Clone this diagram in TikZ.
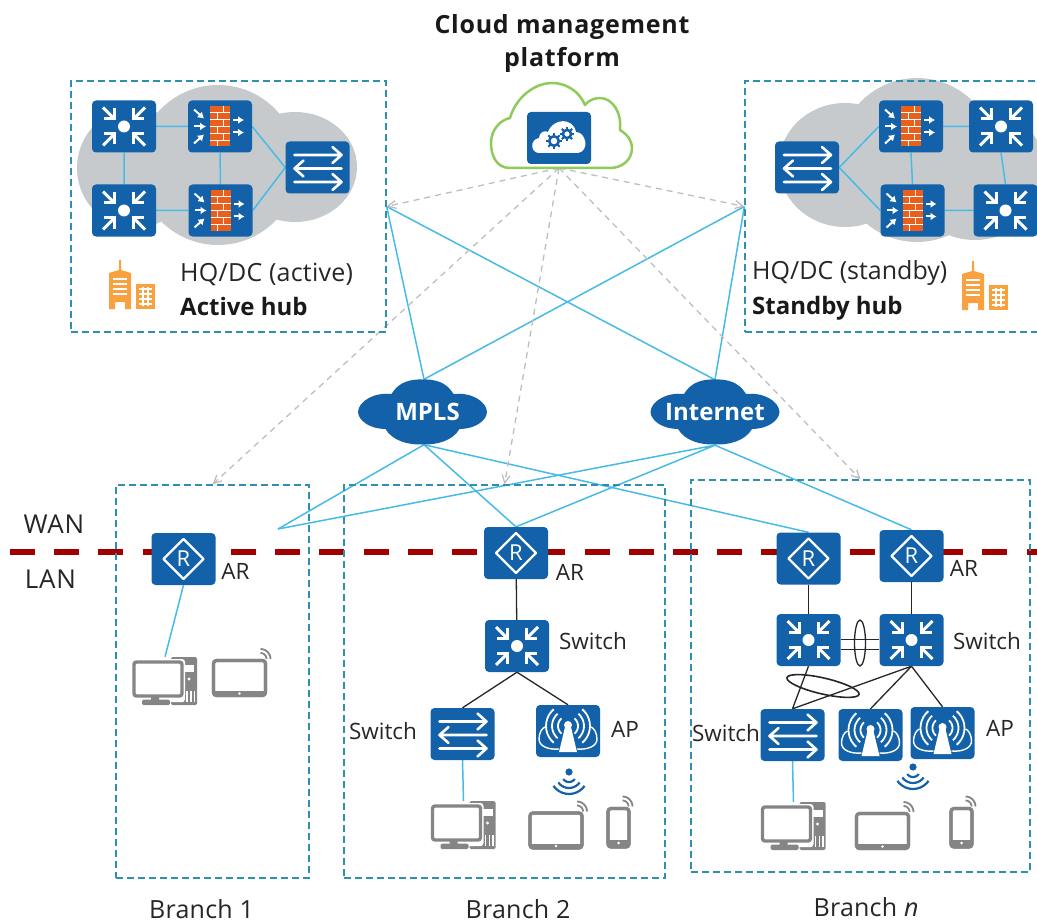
\documentclass[tikz,border=0pt]{standalone}
\usepackage{fontspec}
\setmainfont{Open Sans}
\usetikzlibrary{arrows.meta}
\pgfdeclarelayer{background}
\pgfsetlayers{background,main}
\definecolor{devblue}{HTML}{1261A9}
\definecolor{linkblue}{HTML}{45BBE6}
\definecolor{boxblue}{HTML}{2E8FAE}
\definecolor{cloudgray}{HTML}{C6CACC}
\definecolor{leafgreen}{HTML}{8FCB5A}
\definecolor{wanred}{HTML}{A00000}
\definecolor{brick}{HTML}{E8601C}
\definecolor{bldorange}{HTML}{F9A03F}
\definecolor{devgray}{HTML}{858585}
\definecolor{dashgray}{HTML}{BEBEBE}
\newcommand\fsz[1]{\fontsize{#1}{#1}\selectfont}
\newcommand\dev[3]{\node[devbox] (#1) at (#2) {}; \pic (#1g) at (#1) {#3};}
\tikzset{
  devbox/.style={fill=devblue,rounded corners=4pt,minimum width=64pt,minimum height=52pt,inner sep=0pt},
  endbox/.style={minimum width=64pt,minimum height=48pt,inner sep=0pt},
  areabox/.style={draw=boxblue,line width=1.3pt,dash pattern=on 7pt off 4pt,inner sep=0pt},
  label/.style={inner sep=0pt,font=\fsz{25}\addfontfeature{LetterSpace=1},text=black!85},
  small/.style={inner sep=0pt,font=\fsz{22.5},text=black!85},
  strong/.style={inner sep=0pt,font=\fsz{24}\bfseries,text=black!90},
  blink/.style={draw=linkblue,line width=1.5pt},
  klink/.style={draw=black!85,line width=1.3pt},
  mgmtlink/.style={draw=dashgray,line width=1.3pt,dash pattern=on 6pt off 5pt,-{Straight Barb[length=8pt,width=8pt]}},
  wl/.style={draw=white,line width=2.6pt,line cap=round,line join=round},
  pics/coreglyph/.style={code={
    \fill[white] (0,0) circle[radius=6pt];
    \foreach \sx/\sy in {1/1,-1/1,1/-1,-1/-1}{
      \begin{scope}[xscale=\sx,yscale=\sy]
        \draw[wl,line width=3pt,line cap=butt] (21,19) -- (10,8);
        \draw[wl,line width=3pt,line cap=butt,line join=miter] (9.5,18) -- (9.5,7.5) -- (20,7.5);
      \end{scope}}
  }},
  pics/fwglyph/.style={code={
    \fill[brick] (-10,-20) rectangle (10,20);
    \foreach \yy in {-14,-7,0,7,14}{\draw[white,line width=.9pt] (-10,\yy) -- (10,\yy);}
    \foreach \yy/\xx in {-17/3,-10.5/-3,-3.5/3,3.5/-3,10.5/3,17/-3}{\draw[white,line width=.9pt] (\xx,\yy-3) -- (\xx,\yy+3);}
    \draw[white,line width=2pt,-{Latex[length=6pt,width=8pt]}] (-26,-17) -- (-16,-8);
    \draw[white,line width=2pt,-{Latex[length=6pt,width=8pt]}] (-26,0) -- (-14,0);
    \draw[white,line width=2pt,-{Latex[length=6pt,width=8pt]}] (-26,17) -- (-16,8);
    \draw[white,line width=2pt,-{Latex[length=6pt,width=8pt]}] (13,-6.5) -- (24,-6.5);
    \draw[white,line width=2pt,-{Latex[length=6pt,width=8pt]}] (13,6) -- (24,6);
  }},
  pics/laneglyph/.style={code={
    \draw[wl] (-23,-12.5) -- (24,-12.5) (15,-20.5) -- (24,-12.5) -- (15,-4.5);
    \draw[wl] (24,1) -- (-23,1) (-14,-7) -- (-23,1) -- (-14,9);
    \draw[wl] (-23,14.5) -- (24,14.5) (15,6.5) -- (24,14.5) -- (15,22.5);
  }},
  pics/routerglyph/.style={code={
    \draw[white,line width=2.2pt,line join=round] (0,-20) -- (20,0) -- (0,20) -- (-20,0) -- cycle;
    \node[text=white,inner sep=0pt,font=\fsz{22}] (-R) at (0,0) {R};
  }},
  pics/apglyph/.style={code={
    \fill[white] (-9,21) -- (-2.5,-6) -- (2.5,-6) -- (9,21) -- cycle;
    \fill[white] (0,-6) circle[radius=4pt];
    \foreach \sx in {1,-1}{
      \begin{scope}[xscale=\sx]
        \foreach \r in {10,16,22}{
          \draw[white,line width=1.8pt] plot[domain=-50:50,samples=11] ({\r*cos(\x)},{\r*sin(\x)-5});}
        \draw[white,line width=1.4pt] (9,18) .. controls (20,19) and (29,15) .. (29,8) .. controls (29,2) and (26,-3) .. (23,-4);
      \end{scope}}
  }},
  pics/gearglyph/.style={code={
    \fill[white] (-20,15) .. controls (-28,15) and (-30,2) .. (-20,0) .. controls (-20,-6) and (-14,-8) .. (-11,-6)
       .. controls (-6,-20) and (14,-21) .. (17,-6) .. controls (27,-6) and (31,13) .. (19,15) -- cycle;
    \foreach \cx/\cy/\rr in {-5/3/4.8,8/-4/4.1}{
      \draw[devblue,line width=2.6pt] (\cx,\cy) circle[radius=\rr pt];
      \foreach \a in {0,45,...,315}{
        \draw[devblue,line width=2pt] ({\cx+\rr*cos(\a)},{\cy+\rr*sin(\a)}) -- ({\cx+(\rr+3.2)*cos(\a)},{\cy+(\rr+3.2)*sin(\a)});}
    }
  }},
  pics/pcglyph/.style={code={
    \fill[devgray,rounded corners=1.5pt] (6,-24) rectangle (32,24);
    \fill[white] (19,-16) rectangle (29,-9);
    \fill[white] (24,-2) circle[radius=1.6pt];
    \foreach \xx in {18,22,26,29.5}{\draw[white,line width=1.2pt] (\xx,10) -- (\xx,21);}
    \fill[white,rounded corners=3pt] (-34,-22) rectangle (20,21);
    \fill[devgray,rounded corners=1pt] (-14,14) rectangle (-6,20);
    \fill[devgray,rounded corners=1.5pt] (-23,18.5) rectangle (5,24);
    \draw[devgray,line width=3.4pt,rounded corners=2.5pt,fill=white] (-31,-19) rectangle (17,15);
  }},
  pics/tabletglyph/.style={code={
    \draw[devgray,line width=3.2pt,rounded corners=3pt,fill=white] (-26,-17.5) rectangle (26,17.5);
    \fill[devgray] (-26,13) rectangle (26,18);
    \draw[devgray,line width=3.2pt,rounded corners=3pt] (-26,-17.5) rectangle (26,17.5);
    \fill[white] (0,15.5) circle[radius=1.4pt];
    \foreach \r in {6,10}{
      \draw[devgray,line width=1.8pt] plot[domain=-90:0,samples=9] ({21+\r*cos(\x)},{-19+\r*sin(\x)});}
  }},
  pics/phoneglyph/.style={code={
    \draw[devgray,line width=3.2pt,rounded corners=3pt,fill=white] (-10.5,-19) rectangle (10.5,19.5);
    \fill[devgray] (-10.5,12) rectangle (10.5,19);
    \draw[devgray,line width=3.2pt,rounded corners=3pt] (-10.5,-19) rectangle (10.5,19.5);
    \fill[white] (0,15.5) circle[radius=1.5pt];
    \foreach \r in {6,10}{
      \draw[devgray,line width=1.8pt] plot[domain=-90:0,samples=9] ({4+\r*cos(\x)},{-21+\r*sin(\x)});}
  }},
  pics/wifiglyph/.style={code={
    \fill[devblue] (0,0) circle[radius=3.6pt];
    \foreach \r in {7,13,19}{
      \draw[devblue,line width=2.2pt] plot[domain=35:145,samples=11] ({\r*cos(\x)},{3+\r*sin(\x)});}
  }},
  pics/bldglyph/.style={code={
    \fill[bldorange] (-23,24) -- (-23,-12) -- (-13,-15) -- (-13,-25) -- (-11,-25) -- (-11,-15) -- (-1,-12) -- (-1,24) -- (-7,24) -- (-7,17) -- (-17,17) -- (-17,24) -- cycle;
    \foreach \yy in {-6,-1,4,9}{\draw[white,line width=1.4pt] (-19,\yy) -- (-5,\yy);}
    \fill[bldorange] (4,-1) rectangle (23,24);
    \foreach \yy in {4,9,14,19}{\draw[white,line width=1.2pt] (7,\yy) -- (20,\yy);}
    \foreach \xx in {11,16}{\draw[white,line width=1.1pt] (\xx,2) -- (\xx,21);}
  }},
  pics/netcloud/.style={code={
    \fill[devblue] (-31,-18) .. controls (-24,-30) and (-12,-33) .. (0,-32.5) .. controls (12,-33) and (24,-30) .. (31,-18)
      .. controls (48,-20) and (64,-11) .. (64.5,0) .. controls (64,9) and (52,17) .. (37,17)
      .. controls (30,29) and (14,33) .. (0,32.5) .. controls (-14,33) and (-30,29) .. (-37,17)
      .. controls (-52,17) and (-64,9) .. (-64.5,0) .. controls (-64,-11) and (-48,-20) .. (-31,-18) -- cycle;
  }},
}
\begin{document}
\begin{tikzpicture}[x=1pt,y=-1pt]
\useasboundingbox (0,0) rectangle (1037,923);
% area frames
\node[areabox,minimum width=315pt,minimum height=251pt] (hqa) at (228.5,206.5) {};
\node[areabox,minimum width=300pt,minimum height=251pt] (hqs) at (895,206.5) {};
\node[areabox,minimum width=193pt,minimum height=393pt] (b1) at (212.5,681.5) {};
\node[areabox,minimum width=321pt,minimum height=393pt] (b2) at (504.5,681.5) {};
\node[areabox,minimum width=339pt,minimum height=392pt] (bn) at (860.5,676) {};
% clouds of the hubs
\begin{pgfonlayer}{background}
  \fill[cloudgray] (135,168) ellipse[x radius=58,y radius=60];
  \fill[cloudgray] (218,165) ellipse[x radius=80,y radius=80];
  \fill[cloudgray] (295,167) ellipse[x radius=62,y radius=55];
  \fill[cloudgray] (845,165) ellipse[x radius=66,y radius=62];
  \fill[cloudgray] (917,160) ellipse[x radius=80,y radius=82];
  \fill[cloudgray] (975,172) ellipse[x radius=70,y radius=68];
\end{pgfonlayer}
% management cloud
\draw[leafgreen,line width=2.5pt,line join=round] (510,168) .. controls (496,168) and (491,155) .. (491,143) .. controls (491,130) and (500,120) .. (510,118)
  .. controls (516,97) and (535,83) .. (552,83) .. controls (568,83) and (580,93) .. (585,105) .. controls (590,99) and (596,98) .. (600,98)
  .. controls (612,98) and (622,112) .. (620,130) .. controls (628,135) and (632,141) .. (632,148) .. controls (632,160) and (622,168) .. (610,168) -- cycle;
\dev{mgmt}{559,138}{gearglyph}
\coordinate (mgmtfoot) at (559,168);
\node[inner sep=0pt,font=\fontsize{25}{33}\selectfont\bfseries\addfontfeature{LetterSpace=3},align=center,text=black!90] (title) at (562,44) {Cloud management\\platform};
% network clouds
\pic (mplscloud) at (422.5,412) {netcloud};
\pic (inetcloud) at (715,412) {netcloud};
\node[inner sep=0pt,text=white,font=\fsz{24}\bfseries,minimum width=129pt,minimum height=65pt] (mpls) at (424,412) {\hspace{7pt}MPLS};
\node[inner sep=0pt,text=white,font=\fsz{24}\bfseries,minimum width=129pt,minimum height=65pt] (inet) at (715,412.5) {Internet};
% active hub
\dev{ac1}{124,126.5}{coreglyph}
\dev{ac2}{124,210.5}{coreglyph}
\dev{af1}{220,126.5}{fwglyph}
\dev{af2}{220.5,210.5}{fwglyph}
\dev{al}{317.5,167.5}{laneglyph}
\pic (abld) at (132,285) {bldglyph};
\node[label,anchor=base west] (at1) at (180,281) {HQ/DC (active)};
\node[strong,anchor=base west] (at2) at (180,315) {Active hub};
% standby hub
\dev{sl}{807,167.5}{laneglyph}
\dev{sf1}{911,126.5}{fwglyph}
\dev{sf2}{912.5,210.5}{fwglyph}
\dev{sc1}{1001,126.5}{coreglyph}
\dev{sc2}{1005.5,210.5}{coreglyph}
\pic (sbld) at (985,286) {bldglyph};
\node[label,anchor=base west,font=\fsz{25}] (st1) at (752,279) {HQ/DC (standby)};
\node[strong,anchor=base west] (st2) at (752,314) {Standby hub};
% branch 1
\dev{ar1}{183.5,559}{routerglyph}
\node[endbox] (pc1) at (165,681) {}; \pic (pc1g) at (pc1) {pcglyph};
\node[endbox,minimum width=52pt] (tab1) at (239.5,678) {}; \pic (tab1g) at (tab1) {tabletglyph};
\coordinate (b1in) at (278,529);
\node[small] (lar1) at (235.5,571) {AR};
% branch 2
\dev{ar2}{516,553}{routerglyph}
\dev{cs2}{517,646}{coreglyph}
\dev{ls2}{462.5,734}{laneglyph}
\dev{ap2}{568,731}{apglyph}
\pic (wifi2) at (569,772) {wifiglyph};
\node[endbox] (pc2) at (463.5,825) {}; \pic (pc2g) at (pc2) {pcglyph};
\node[endbox,minimum width=52pt] (tab2) at (556,830.5) {}; \pic (tab2g) at (tab2) {tabletglyph};
\node[endbox,minimum width=21pt] (ph2) at (618.5,827.5) {}; \pic (ph2g) at (ph2) {phoneglyph};
\node[small] (lar2) at (570,572) {AR};
\node[small] (lsw2) at (593,641) {Switch};
\node[small] (lsw3) at (383,731) {Switch};
\node[small] (lap2) at (625,729) {AP};
% branch n
\dev{arn1}{808.5,558.5}{routerglyph}
\dev{arn2}{911.5,556}{routerglyph}
\dev{csn1}{808.5,640}{coreglyph}
\dev{csn2}{911.5,640}{coreglyph}
\dev{lsn}{792.5,735}{laneglyph}
\dev{apn1}{870.5,735}{apglyph}
\dev{apn2}{942.5,733}{apglyph}
\pic (wifin) at (913,767) {wifiglyph};
\node[endbox] (pcn) at (793.5,826) {}; \pic (pcng) at (pcn) {pcglyph};
\node[endbox,minimum width=52pt] (tabn) at (882.5,831) {}; \pic (tabng) at (tabn) {tabletglyph};
\node[endbox,minimum width=21pt] (phn) at (961.5,827.5) {}; \pic (phng) at (phn) {phoneglyph};
\node[small] (larn) at (964,568) {AR};
\node[small] (lswn) at (987,641) {Switch};
\node[small] (lswm) at (726,733) {Switch};
\node[small] (lapn) at (1000,728) {AP};
% outer texts
\node[label,font=\fsz{26}\addfontfeature{LetterSpace=3}] (wan) at (54,524) {WAN};
\node[label,font=\fsz{26}\addfontfeature{LetterSpace=3}] (lan) at (50.5,579) {LAN};
\node[label] (bl1) at (201.5,909) {Branch 1};
\node[label] (bl2) at (518,909) {Branch 2};
\node[label] (bln) at (866,907) {Branch {\itshape n}};
% LAG ovals
\draw[klink] (860,643) ellipse[x radius=5.5,y radius=23];
\draw[klink,line width=1.6pt] (823,686) [rotate around={-13:(823,686)}] ellipse[x radius=37,y radius=8];
\begin{pgfonlayer}{background}
  \coordinate (wanl) at (10,552);
  \coordinate (wanr) at (1037,552);
  \draw[wanred,line width=6pt,dash pattern=on 25pt off 19.2pt] (wanl) -- (wanr);
  % hub internals
  \draw[blink] (ac1) -- (af1) (ac1) -- (ac2) (ac2) -- (af2) (af1) -- (af2) (af1.east) -- (al.west) (af2.east) -- (al.west);
  \draw[blink] (sc1) -- (sf1) (sc1.south) -- (sc2.north) (sc2) -- (sf2) (sf1.south) -- (sf2.north) (sf1.west) -- (sl.east) (sf2.west) -- (sl.east);
  % WAN links
  \draw[blink] (hqa.east) -- (mpls.north) (hqa.east) -- (inet.north) (hqs.west) -- (mpls.north) (hqs.west) -- (inet.north);
  \draw[blink] (mpls.south) -- (b1in) (mpls.south) -- (ar2.north) (mpls.south) -- (arn1.north);
  \draw[blink] (inet.south) -- (b1in) (inet.south) -- (ar2.north) (inet.south) -- (arn2.north);
  % management links
  \draw[mgmtlink] (mgmtfoot) -- (hqa.east);
  \draw[mgmtlink] (mgmtfoot) -- (hqs.west);
  \draw[mgmtlink] (mgmtfoot) -- (b1.north);
  \draw[mgmtlink] (mgmtfoot) -- (b2.north);
  \draw[mgmtlink] (mgmtfoot) -- (bn.north);
  % branch links
  \draw[blink] (ar1.south) -- (pc1.north) (ls2.south) -- (pc2.north) (lsn.south) -- (pcn.north);
  \draw[klink] (ar2) -- (cs2) (cs2.south) -- (ls2.north) (cs2.south) -- (ap2.north);
  \draw[klink] (arn1) -- (csn1) (arn2) -- (csn2);
  \draw[klink] ([yshift=0.7pt]csn1.east) -- ([yshift=0.7pt]csn2.west) ([yshift=-9.8pt]csn1.east) -- ([yshift=-9.8pt]csn2.west);
  \draw[klink] (csn1.south) -- (lsn.north) (csn2.south) -- (lsn.north) (csn2.south) -- (apn1.north) (csn2.south) -- (apn2.north);
\end{pgfonlayer}
\end{tikzpicture}
\end{document}
